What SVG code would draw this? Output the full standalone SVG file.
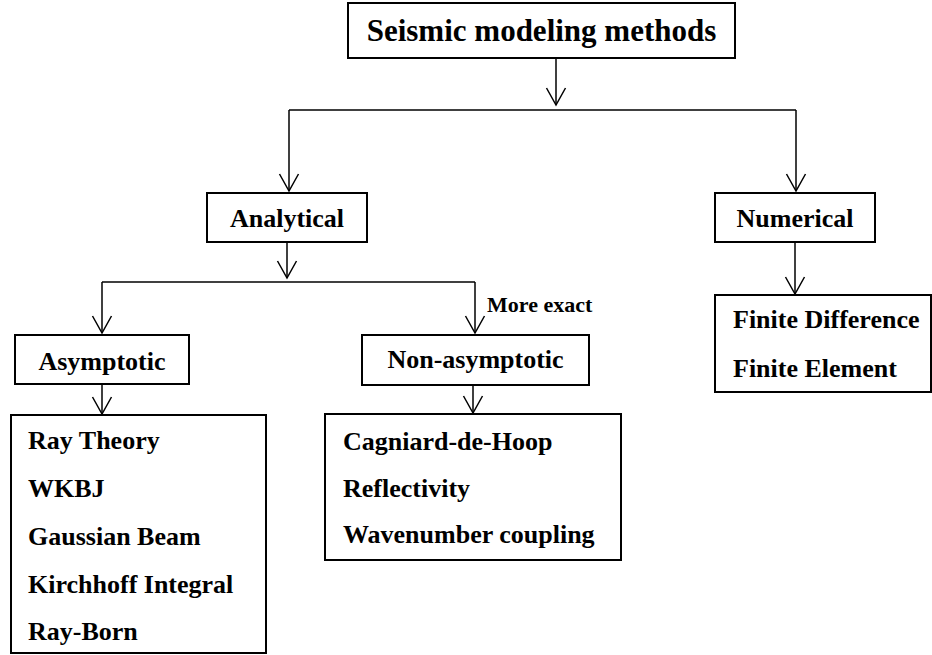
<svg xmlns="http://www.w3.org/2000/svg" width="932" height="655" viewBox="0 0 932 655">
<style>
.box{fill:#fff;stroke:#000;stroke-width:2}
.t{font-family:"Liberation Serif","Times New Roman",serif;font-weight:bold;font-size:26px;fill:#000}
.c{text-anchor:middle}
.ln{fill:none;stroke:#000;stroke-width:1.5}
</style>
<defs>
<marker id="arr" markerUnits="userSpaceOnUse" markerWidth="24" markerHeight="24" viewBox="-20 -12 24 24" refX="0" refY="0" orient="auto" overflow="visible">
<path d="M-17,-9.5 L0,0 L-17,9.5" fill="none" stroke="#000" stroke-width="1.5"/>
</marker>
</defs>
<rect width="932" height="655" fill="#fff"/>
<g id="connectors">
<path class="ln" d="M556,59 V105" marker-end="url(#arr)"/>
<path class="ln" d="M289,110 H796"/>
<path class="ln" d="M289,110 V191" marker-end="url(#arr)"/>
<path class="ln" d="M796,110 V191" marker-end="url(#arr)"/>
<path class="ln" d="M287,243 V278" marker-end="url(#arr)"/>
<path class="ln" d="M102,282 H475"/>
<path class="ln" d="M102,282 V333" marker-end="url(#arr)"/>
<path class="ln" d="M475,282 V333" marker-end="url(#arr)"/>
<path class="ln" d="M102,385 V414" marker-end="url(#arr)"/>
<path class="ln" d="M473,386 V413" marker-end="url(#arr)"/>
<path class="ln" d="M795,243 V294" marker-end="url(#arr)"/>
<text class="t" x="487" y="312" font-size="22" style="font-size:22px">More exact</text>
</g>
<g id="title">
<rect class="box" x="348" y="3" width="387" height="55"/>
<text class="t c" x="541.5" y="41" style="font-size:31px">Seismic modeling methods</text>
</g>
<g id="analytical">
<rect class="box" x="207" y="193" width="160" height="49"/>
<text class="t c" x="287" y="227">Analytical</text>
</g>
<g id="numerical">
<rect class="box" x="715" y="193" width="160" height="49"/>
<text class="t c" x="795" y="227">Numerical</text>
</g>
<g id="asymptotic">
<rect class="box" x="15" y="335" width="174" height="49"/>
<text class="t c" x="102" y="370">Asymptotic</text>
</g>
<g id="non-asymptotic">
<rect class="box" x="362" y="335" width="227" height="50"/>
<text class="t c" x="475.5" y="368">Non-asymptotic</text>
</g>
<g id="asymptotic-methods">
<rect class="box" x="11" y="415" width="255" height="238"/>
<text class="t" x="28" y="449">Ray Theory</text>
<text class="t" x="28" y="497">WKBJ</text>
<text class="t" x="28" y="545">Gaussian Beam</text>
<text class="t" x="28" y="593">Kirchhoff Integral</text>
<text class="t" x="28" y="640">Ray-Born</text>
</g>
<g id="non-asymptotic-methods">
<rect class="box" x="325" y="414" width="296" height="146"/>
<text class="t" x="343" y="450">Cagniard-de-Hoop</text>
<text class="t" x="343" y="497">Reflectivity</text>
<text class="t" x="343" y="543">Wavenumber coupling</text>
</g>
<g id="numerical-methods">
<rect class="box" x="715" y="295" width="216" height="97"/>
<text class="t" x="733" y="328">Finite Difference</text>
<text class="t" x="733" y="377">Finite Element</text>
</g>
</svg>
